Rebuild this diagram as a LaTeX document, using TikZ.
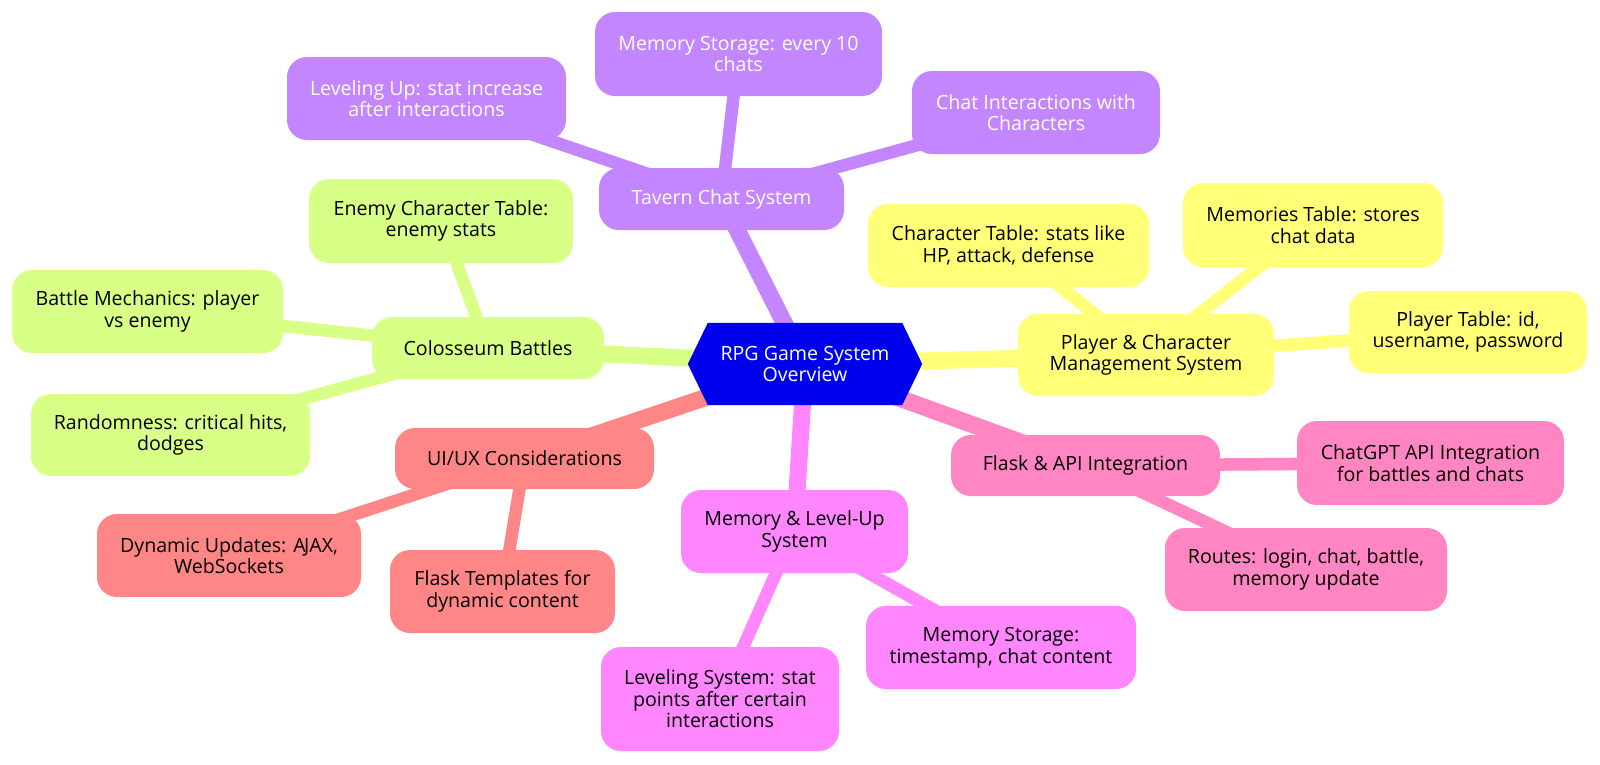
\documentclass[tikz,border=0pt]{standalone}
\usepackage{fontspec}
\setmainfont{Open Sans}
\definecolor{cblue}{HTML}{0000EC}
\definecolor{cpurple}{HTML}{C386FF}
\definecolor{cyellow}{HTML}{FFFF78}
\definecolor{cgreen}{HTML}{D8FF86}
\definecolor{cmagenta}{HTML}{FF86FF}
\definecolor{cpink}{HTML}{FF86C3}
\definecolor{cred}{HTML}{FF8686}
\pgfdeclarelayer{bg}
\pgfdeclarelayer{hex}
\pgfsetlayers{bg,hex,main}
\begin{document}
\begin{tikzpicture}[x=1pt,y=-1pt,
  box/.style={rounded corners=20pt, inner sep=0pt, align=center,
    font=\fontsize{19.6}{21.5}\selectfont, text=black},
  sz/.style 2 args={minimum width=#1pt, minimum height=#2pt},
  eone/.style={line width=17pt},
  etwo/.style={line width=12.5pt}]
\useasboundingbox (0,0) rectangle (1600,764);

% center
\node[box, sz={234}{82}, text=white] (c) at (805,364) {RPG Game System\\Overview};

% purple section
\node[box, fill=cpurple, text=white, sz={245}{62}] (tavern) at (721.5,199) {Tavern Chat System};
\node[box, fill=cpurple, text=white, sz={279}{83}] (lvlup) at (426.5,98.5) {Leveling Up: stat increase\\after interactions};
\node[box, fill=cpurple, text=white, sz={287}{84}] (memst) at (738.5,54) {Memory Storage: every 10\\chats};
\node[box, fill=cpurple, text=white, sz={248}{83}] (chatint) at (1036,112.5) {Chat Interactions with\\Characters};

% green section
\node[box, fill=cgreen, sz={232}{62}] (colos) at (488,348) {Colosseum Battles};
\node[box, fill=cgreen, sz={264}{84}] (enemy) at (441,221) {Enemy Character Table:\\enemy stats};
\node[box, fill=cgreen, sz={271}{83}] (battle) at (147.5,311.5) {Battle Mechanics: player\\vs enemy};
\node[box, fill=cgreen, sz={279}{82}] (random) at (170.5,435) {Randomness: critical hits,\\dodges};

% red section
\node[box, fill=cred, sz={259}{61}] (uiux) at (524.5,458.5) {UI/UX Considerations};
\node[box, fill=cred, sz={264}{83}] (dynup) at (229,555.5) {Dynamic Updates: A\kern-1.5pt JAX,\\WebSockets};
\node[box, fill=cred, sz={225}{83}] (flasktpl) at (502.5,591.5) {Flask Templates for\\dynamic content};

% magenta section
\node[box, fill=cmagenta, sz={227}{83}] (memlvl) at (794.5,531.5) {Memory \& Level-Up\\System};
\node[box, fill=cmagenta, sz={238}{104}] (lvlsys) at (720,699) {Leveling System: stat\\points after certain\\interactions};
\node[box, fill=cmagenta, sz={270}{83}] (memts) at (1001,647.5) {Memory Storage:\\timestamp, chat content};

% pink section
\node[box, fill=cpink, sz={269}{61}] (flaskapi) at (1085.5,465.5) {Flask \& API Integration};
\node[box, fill=cpink, sz={267}{84}] (chatgpt) at (1430.5,463) {ChatGPT API Integration\\for battles and chats};
\node[box, fill=cpink, sz={282}{83}] (routes) at (1306,569.5) {Routes: login, chat, battle,\\memory update};

% yellow section
\node[box, fill=cyellow, sz={256}{82}] (player) at (1146,355) {Player \& Character\\Management System};
\node[box, fill=cyellow, sz={281}{83}] (chartab) at (1008.5,245.5) {Character Table: stats like\\HP, attack, defense};
\node[box, fill=cyellow, sz={260}{84}] (memtab) at (1313,225) {Memories Table: stores\\chat data};
\node[box, fill=cyellow, sz={238}{82}] (ptable) at (1468,332) {Player Table: id,\\username, password};

\begin{pgfonlayer}{hex}
\fill[cblue] (c.west) -- ([xshift=20pt]c.north west) -- ([xshift=-20pt]c.north east)
  -- (c.east) -- ([xshift=-20pt]c.south east) -- ([xshift=20pt]c.south west) -- cycle;
\end{pgfonlayer}

\begin{pgfonlayer}{bg}
\draw[eone, cpurple] (c.center) -- (tavern.center);
\draw[etwo, cpurple] (tavern.center) -- (lvlup.center);
\draw[etwo, cpurple] (tavern.center) -- (memst.center);
\draw[etwo, cpurple] (tavern.center) -- (chatint.center);
\draw[eone, cgreen] (c.center) -- (colos.center);
\draw[etwo, cgreen] (colos.center) -- (enemy.center);
\draw[etwo, cgreen] (colos.center) -- (battle.center);
\draw[etwo, cgreen] (colos.center) -- (random.center);
\draw[eone, cred] (c.center) -- (uiux.center);
\draw[etwo, cred] (uiux.center) -- (dynup.center);
\draw[etwo, cred] (uiux.center) -- (flasktpl.center);
\draw[eone, cmagenta] (c.center) -- (memlvl.center);
\draw[etwo, cmagenta] (memlvl.center) -- (lvlsys.center);
\draw[etwo, cmagenta] (memlvl.center) -- (memts.center);
\draw[eone, cpink] (c.center) -- (flaskapi.center);
\draw[etwo, cpink] (flaskapi.center) -- (chatgpt.center);
\draw[etwo, cpink] (flaskapi.center) -- (routes.center);
\draw[eone, cyellow] (c.center) -- (player.center);
\draw[etwo, cyellow] (player.center) -- (chartab.center);
\draw[etwo, cyellow] (player.center) -- (memtab.center);
\draw[etwo, cyellow] (player.center) -- (ptable.center);
\end{pgfonlayer}
\end{tikzpicture}
\end{document}
